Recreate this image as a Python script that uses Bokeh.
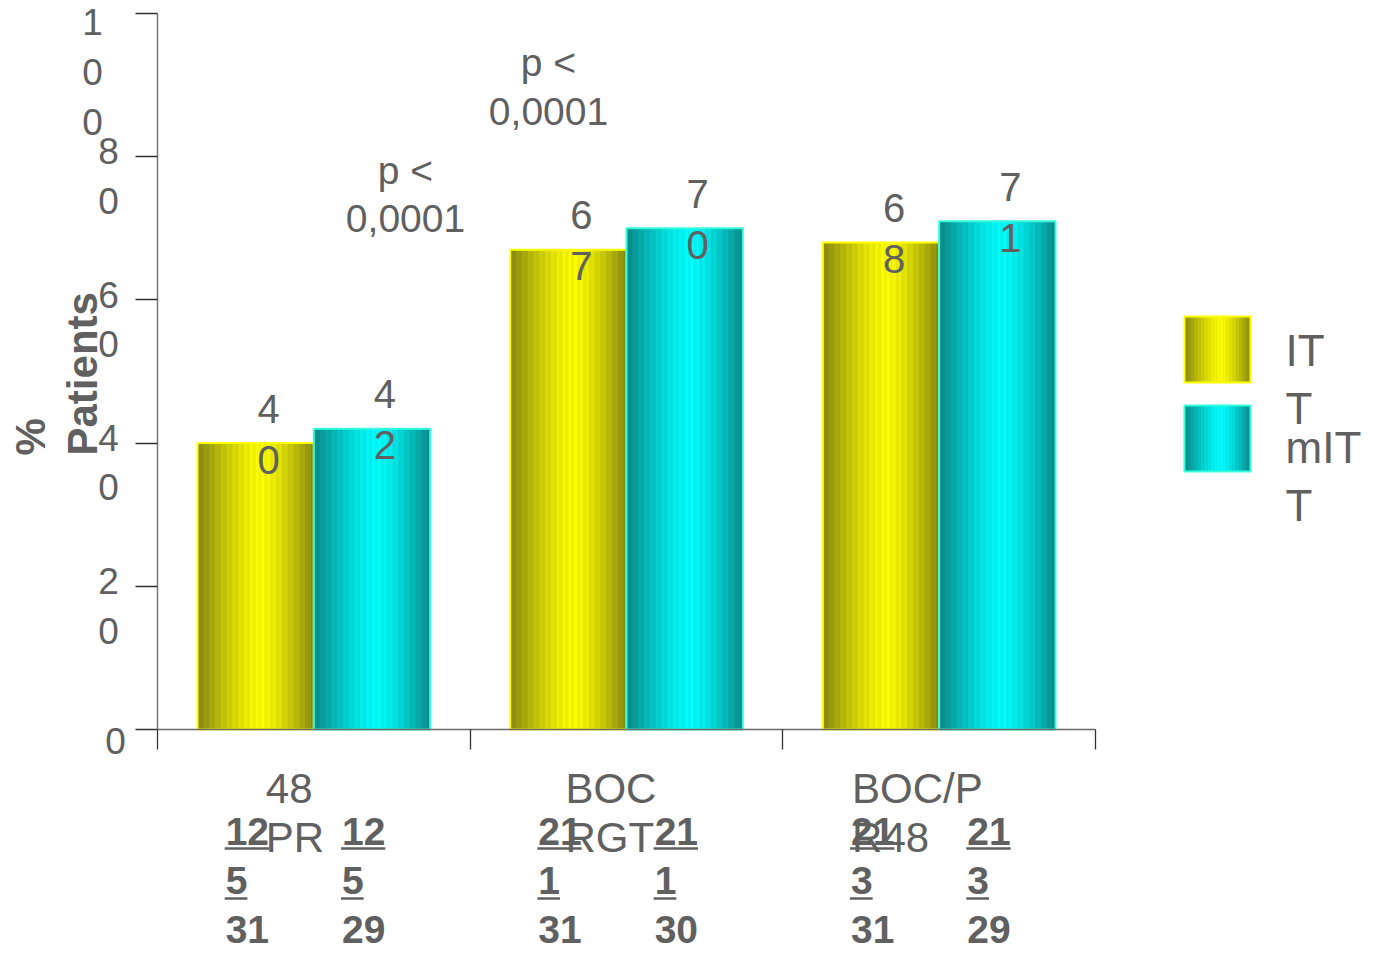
import math
from bokeh.plotting import figure
from bokeh.models import Range1d, FixedTicker
from bokeh.core.properties import value
from bokeh.embed import file_html
from bokeh.resources import INLINE

# ---------------- data ----------------
categories = ["48\nPR", "BOC\nRGT", "BOC/P\nR48"]
series_names = ["ITT", "mITT"]
itt_values = [40, 67, 68]
mitt_values = [42, 70, 71]
itt_n_top = ["125", "211", "213"]
itt_n_bottom = ["31", "31", "31"]
mitt_n_top = ["125", "211", "213"]
mitt_n_bottom = ["29", "30", "29"]
y_ticks = [0, 20, 40, 60, 80, 100]
y_tick_labels = ["0", "20", "40", "60", "80", "100"]
p_value_labels = ["p <\n0,0001", "p <\n0,0001"]
y_axis_title = "%\nPatients"

# ---------------- layout ----------------
W, H = 1373, 953
PAGE = 0
X0, Y0 = 157.0, 729.0            # page px of data (0, 0)
PX_X = (1095.0 - 157.0) / 3.0     # px per category
PX_Y = (729.0 - 13.0) / 100.0     # px per percent
FONT = value("Liberation Sans")
GRAY = "#606060"


def xd(px):
    return (px - X0) / PX_X


def yd(py):
    return (Y0 - py) / PX_Y


p = figure(width=W, height=H,
           x_range=Range1d(xd(PAGE), xd(PAGE + W)),
           y_range=Range1d(yd(PAGE + H), yd(PAGE)),
           output_backend="svg", toolbar_location=None,
           min_border=0, outline_line_color=None)
p.xgrid.visible = False
p.ygrid.visible = False
p.background_fill_color = "white"

xa = p.xaxis[0]
xa.fixed_location = 0
xa.bounds = (0, len(categories))
xa.ticker = FixedTicker(ticks=list(range(len(categories) + 1)))
xa.major_label_text_alpha = 0
xa.major_label_text_font_size = "1px"
xa.major_tick_out = 20
xa.major_tick_in = 0
xa.minor_tick_line_color = None
xa.axis_line_color = "#6a6a6a"
xa.axis_line_width = 1.5
xa.major_tick_line_color = "#333333"
xa.major_tick_line_width = 1.3

ya = p.yaxis[0]
ya.fixed_location = 0
ya.bounds = (0, 100)
ya.ticker = FixedTicker(ticks=y_ticks)
ya.major_label_text_alpha = 0
ya.major_label_text_font_size = "1px"
ya.major_tick_out = 22
ya.major_tick_in = 0
ya.minor_tick_line_color = None
ya.axis_line_color = "#7a7a7a"
ya.axis_line_width = 1.5
ya.major_tick_line_color = "#333333"
ya.major_tick_line_width = 1.3

BAR_W = 116.3 / PX_X
OFFS = [-BAR_W / 2, BAR_W / 2]
NSTRIPE = 40


def shade(t, k, peak=0.55):
    d = (peak - t) / peak if t < peak else (t - peak) / (1 - peak)
    b = 0.54 + 0.46 * (1 - d ** 1.4)
    b *= 1 - 0.05 * (k % 2)
    return b


def yellow(b):
    return "#%02x%02x%02x" % (int(255 * b), int(255 * b), int(40 * (1 - b)))


def cyan(b):
    return "#%02x%02x%02x" % (int(24 * (1 - b)), int(255 * b), int(255 * b))


color_funcs = [yellow, cyan]
outline_colors = ["#ffff00", "#33ffdd"]


def striped(left, right, bottom, top, cfunc):
    L, R, B, T, C = [], [], [], [], []
    w = (right - left) / NSTRIPE
    for k in range(NSTRIPE):
        l = left + k * w
        L.append(l)
        R.append(min(l + 1.7 * w, right))
        B.append(bottom)
        T.append(top)
        C.append(cfunc(shade((k + 0.5) / NSTRIPE, k)))
    return L, R, B, T, C


all_values = [itt_values, mitt_values]
for s, vals in enumerate(all_values):
    L, R, B, T, C = [], [], [], [], []
    centers = []
    for i, v in enumerate(vals):
        cx = i + 0.5 + OFFS[s]
        centers.append(cx)
        l, r, b, t, c = striped(cx - BAR_W / 2, cx + BAR_W / 2, 0, v, color_funcs[s])
        L += l; R += r; B += b; T += t; C += c
    p.quad(left=L, right=R, bottom=B, top=T, fill_color=C, line_color=None)
    p.vbar(x=centers, width=BAR_W, top=vals, bottom=0, fill_color=None,
           line_color=outline_colors[s], line_width=2)
    # value labels (wrapped one digit per line)
    p.text(x=[c + 13 / PX_X for c in centers],
           y=[v + 9 / PX_Y for v in vals],
           text=["\n".join(str(v)) for v in vals],
           text_font=FONT, text_font_size="40px", text_color=GRAY,
           text_align="center", text_baseline="middle", text_line_height=1.16)

# n labels under bars
n_tops = [itt_n_top, mitt_n_top]
n_bottoms = [itt_n_bottom, mitt_n_bottom]
N_PITCH = 50.0
N_MID = 880.0
N_FS = 39
for s in range(2):
    xs, ys, txt = [], [], []
    ux0, ux1, uy = [], [], []
    for i in range(len(categories)):
        cx = i + 0.5 + OFFS[s]
        lx = cx - 30 / PX_X
        top = n_tops[s][i]
        lines = [top[:2], top[2:], n_bottoms[s][i]]
        xs.append(lx)
        ys.append(yd(N_MID))
        txt.append("\n".join(lines))
        for j in range(2):
            line_c = N_MID + (j - 1) * N_PITCH
            ux0.append(lx - 1 / PX_X)
            ux1.append(lx + (len(lines[j]) * 0.556 * N_FS) / PX_X)
            uy.append(yd(line_c + 18))
    p.text(x=xs, y=ys, text=txt, text_font=FONT, text_font_size="%dpx" % N_FS,
           text_font_style="bold", text_color=GRAY, text_align="left",
           text_baseline="middle", text_line_height=1.147)
    p.segment(x0=ux0, y0=uy, x1=ux1, y1=uy, line_color=GRAY, line_width=2.5)

# category labels
cxs = []
for i, c in enumerate(categories):
    maxlen = max(len(s) for s in c.split("\n"))
    cxs.append(i + 0.5 - (maxlen * 0.62 * 42 / 2 + 22) / PX_X)
p.text(x=cxs, y=[yd(812.5)] * len(categories), text=categories,
       text_font=FONT, text_font_size="42px", text_color=GRAY,
       text_align="left", text_baseline="middle", text_line_height=1.045)

# y tick labels
tx, ty, tt = [], [], []
xcenter_by_len = {1: 115, 2: 108, 3: 92}
for v, lab in zip(y_ticks, y_tick_labels):
    n = len(lab)
    tick_py = Y0 - v * PX_Y
    first = tick_py + 11 if n == 1 else tick_py - 5
    first = max(first, 22)
    mid = first + (n - 1) * 50 / 2
    tx.append(xd(xcenter_by_len[n]))
    ty.append(yd(mid))
    tt.append("\n".join(lab))
p.text(x=tx, y=ty, text=tt, text_font=FONT, text_font_size="37px",
       text_color=GRAY, text_align="center", text_baseline="middle",
       text_line_height=1.21)

# y axis title
p.text(x=[xd(56)], y=[yd(455)], text=[y_axis_title], angle=math.pi / 2,
       text_font=FONT, text_font_size="42px", text_font_style="bold",
       text_color=GRAY, text_align="left", text_baseline="middle",
       text_line_height=1.108)

# p-values
p.text(x=[xd(405), xd(548)], y=[yd(194), yd(86.5)], text=p_value_labels,
       text_font=FONT, text_font_size="39px", text_color=GRAY,
       text_align="center", text_baseline="middle", text_line_height=1.12)

# legend
leg_tops = [316, 405]
leg_text_mid = [379, 476]
for s, name in enumerate(series_names):
    l, r = xd(1184), xd(1250)
    t, b = yd(leg_tops[s]), yd(leg_tops[s] + 66)
    L, R, B, T, C = striped(l, r, b, t, color_funcs[s])
    p.quad(left=L, right=R, bottom=B, top=T, fill_color=C, line_color=None)
    p.quad(left=[l], right=[r], bottom=[b], top=[t], fill_color=None,
           line_color=outline_colors[s], line_width=2)
    p.text(x=[xd(1285)], y=[yd(leg_text_mid[s])], text=[name[:-1] + "\n" + name[-1]],
           text_font=FONT, text_font_size="44px", text_color=GRAY,
           text_align="left", text_baseline="middle", text_line_height=1.18)

open("out.html", "w").write(file_html(p, INLINE))
